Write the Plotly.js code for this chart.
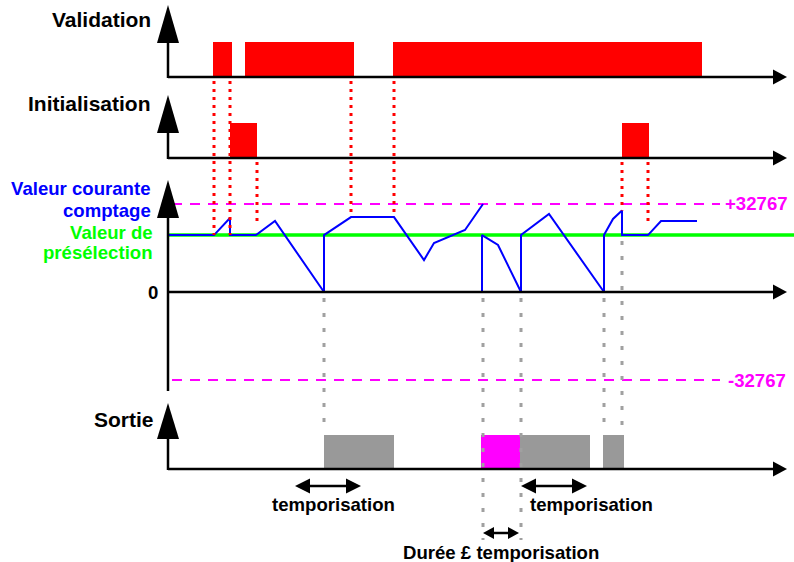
<!DOCTYPE html>
<html><head><meta charset="utf-8">
<script src="https://cdn.plot.ly/plotly-3.0.1.min.js"></script>
<style>html,body{margin:0;padding:0;background:#fff;}#chart{width:794px;height:562px;}</style>
</head><body><div id="chart"></div>
<script>
// ---------------- data (time units; counter in counts) ----------------
const validationOn = [[45,64],[77,186],[225,534]];
const initOn = [[62,89],[454,481]];
const outputOn = [[156,226],[352,422],[435,456]];
const outputShortOn = [[313,352]];
const counterT = [0,46,62,62,88,107,156,156,183,226,256,266,297,315,null,314,314,330,353,353,381,436,436,445,454,454,480,493,529];
const counterV = [21200,21200,27550,21200,21200,26450,0,21200,27900,27900,11900,18250,23100,32767,null,0,21200,17500,0,21200,29050,0,21200,27200,30350,21200,21200,26450,26450];
const PRESET = 21200;
const LIMIT = 32767;
const redGuideT = [46,62,89,183,226,454,480];
const redGuideFrom = ['val','val','init','val','val','init','init'];
const redGuideTo = [21200,21200,26000,27900,27900,30350,26000];
const greyGuideT = [156,315,353,436,454];
const greyGuideFrom = [0,0,0,0,21200];
const greyGuideLong = [false,true,true,false,false];
const panelLabels = ['Validation','Initialisation','Sortie'];
const limitLabels = ['+32767','-32767'];

// ---------------- geometry ----------------
const W = 794, H = 562, X0 = 168;
const FONT = 'Liberation Sans, Arial, sans-serif';
function yRange(p0, v0, p1, v1){ const s=(v1-v0)/(p0-p1); return [v0-(H-p0)*s, v0+p0*s]; }
const cScale = LIMIT/88; // counts per pixel
function pxToCounter(p){ return (292-p)*cScale; }
const PX = p => p/W, PY = p => 1 - p/H;

function pulses(list){
  const x=[],y=[];
  list.forEach(([a,b])=>{ x.push(a,a,b,b,a,null); y.push(0,1,1,0,0,null); });
  return {x,y};
}
const v = pulses(validationOn), ini = pulses(initOn), o = pulses(outputOn), os = pulses(outputShortOn);
const fillTrace = (d, ya, col) => ({x:d.x, y:d.y, xaxis:'x', yaxis:ya, mode:'lines', fill:'toself',
  fillcolor:col, line:{width:0, color:col}, hoverinfo:'skip', showlegend:false});

const traces = [
  fillTrace(v,'y','#ff0000'),
  fillTrace(ini,'y2','#ff0000'),
  fillTrace(o,'y4','#999999'),
  fillTrace(os,'y4','#ff00ff'),
  {x:counterT, y:counterV, xaxis:'x', yaxis:'y3', mode:'lines', line:{color:'#0000ff', width:2},
   connectgaps:false, hoverinfo:'skip', showlegend:false}
];

const shapes = [];
// preset line
shapes.push({type:'line', xref:'paper', yref:'y3', x0:PX(168), x1:1, y0:PRESET, y1:PRESET,
  line:{color:'#00ff00', width:3.5}, layer:'below'});
// limit lines
[LIMIT,-LIMIT].forEach(val=>shapes.push({type:'line', xref:'paper', yref:'y3', x0:PX(172), x1:PX(720), y0:val, y1:val,
  line:{color:'#ff00ff', width:2, dash:'10px,8px'}, layer:'below'}));
// red guides
redGuideT.forEach((t,i)=>{
  const top = redGuideFrom[i]==='val' ? 81 : 162;
  shapes.push({type:'line', xref:'x', yref:'y3', x0:t, x1:t, y0:pxToCounter(top), y1:redGuideTo[i],
    line:{color:'#ff0000', width:3, dash:'3px,5px'}});
});
// grey guides
greyGuideT.forEach((t,i)=>{
  const bottom = greyGuideLong[i] ? 540 : 432;
  shapes.push({type:'line', xref:'x', yref:'y3', x0:t, x1:t, y0:greyGuideFrom[i]-6*cScale, y1:pxToCounter(bottom),
    line:{color:'#a0a0a0', width:3, dash:'4px,11px'}});
});
// axes
const vTop=[5,95,180,403], vBase=[43,133,218,439], vEnd=[77,158,390,469], hY=[77,158,292,469];
function path(pts){ return 'M'+pts.map(p=>PX(p[0])+','+PY(p[1])).join(' L')+' Z'; }
for(let i=0;i<4;i++){
  shapes.push({type:'line', xref:'paper', yref:'paper', x0:PX(168), x1:PX(168), y0:PY(vBase[i]-1), y1:PY(vEnd[i]+1), line:{color:'#000', width:2.5}});
  shapes.push({type:'path', xref:'paper', yref:'paper', path:path([[168,vTop[i]],[179,vBase[i]],[157,vBase[i]]]), fillcolor:'#000', line:{width:0}});
  shapes.push({type:'line', xref:'paper', yref:'paper', x0:PX(168), x1:PX(775), y0:PY(hY[i]), y1:PY(hY[i]), line:{color:'#000', width:2.5}});
  shapes.push({type:'path', xref:'paper', yref:'paper', path:path([[787,hY[i]],[773,hY[i]-7.5],[773,hY[i]+7.5]]), fillcolor:'#000', line:{width:0}});
}
// double arrows
function dbl(x1,x2,y,hl,hh){
  shapes.push({type:'line', xref:'paper', yref:'paper', x0:PX(x1+hl-1), x1:PX(x2-hl+1), y0:PY(y), y1:PY(y), line:{color:'#000', width:2.5}});
  shapes.push({type:'path', xref:'paper', yref:'paper', path:path([[x1,y],[x1+hl,y-hh],[x1+hl,y+hh]]), fillcolor:'#000', line:{width:0}});
  shapes.push({type:'path', xref:'paper', yref:'paper', path:path([[x2,y],[x2-hl,y-hh],[x2-hl,y+hh]]), fillcolor:'#000', line:{width:0}});
}
dbl(295,361,486,15,7.5);
dbl(521,587,486,15,7.5);
dbl(483,519,533,11,6);

// text
const ann = [];
function txt(s,x,y,anchor,size,col){ ann.push({text:'<b>'+s+'</b>', xref:'paper', yref:'paper', x:PX(x), y:PY(y),
  xanchor:anchor, yanchor:'middle', showarrow:false, font:{family:FONT, size:size, color:col}, borderpad:0}); }
txt(panelLabels[0],152,19,'right',21,'#000');
txt(panelLabels[1],152,103,'right',21,'#000');
txt(panelLabels[2],155,419,'right',21,'#000');
txt('Valeur courante',152,188,'right',18.6,'#0000ff');
txt('comptage',152,210,'right',18.6,'#0000ff');
txt('Valeur de',154,232,'right',18.6,'#00ff00');
txt('présélection',154,253,'right',18.6,'#00ff00');
txt('0',159,292,'right',18.6,'#000');
txt(limitLabels[0],724,204,'left',18.6,'#ff00ff');
txt(limitLabels[1],727,380,'left',18.6,'#ff00ff');
txt('temporisation',333,504,'center',18.6,'#000');
txt('temporisation',591,504,'center',18.6,'#000');
txt('Durée £ temporisation',501,552,'center',18.6,'#000');

const hid = {visible:false, fixedrange:true};
const layout = {
  width:W, height:H, autosize:false, margin:{l:0,r:0,t:0,b:0,pad:0},
  paper_bgcolor:'#fff', plot_bgcolor:'#fff', showlegend:false,
  xaxis:Object.assign({range:[-X0, W-X0], domain:[0,1]}, hid),
  yaxis:Object.assign({range:yRange(77,0,42,1), domain:[0,1]}, hid),
  yaxis2:Object.assign({range:yRange(158,0,123,1), overlaying:'y'}, hid),
  yaxis3:Object.assign({range:yRange(292,0,204,LIMIT), overlaying:'y'}, hid),
  yaxis4:Object.assign({range:yRange(469,0,435,1), overlaying:'y'}, hid),
  shapes:shapes, annotations:ann
};
Plotly.newPlot('chart', traces, layout, {staticPlot:true, displayModeBar:false});
</script></body></html>
